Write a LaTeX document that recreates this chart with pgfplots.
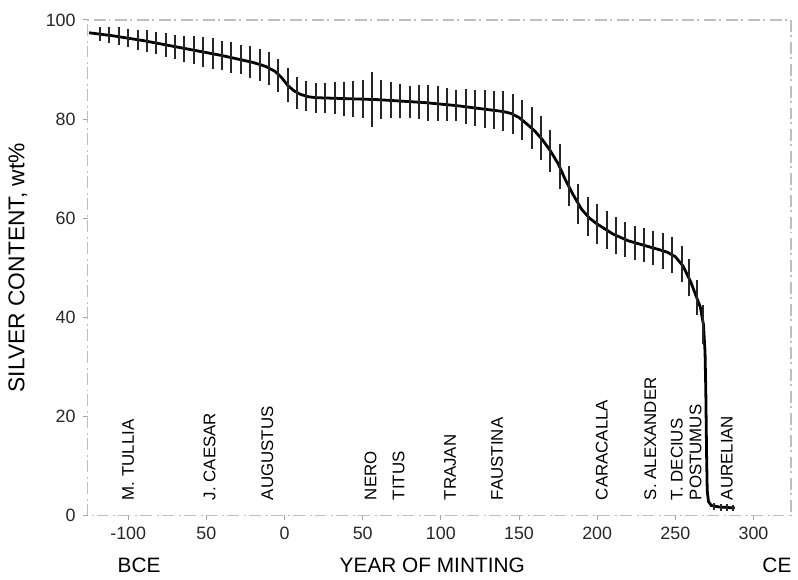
\documentclass[border=0pt]{standalone}
\usepackage{fontspec}
\setmainfont{Liberation Sans}
\usepackage{pgfplots}
\usepackage{pgfplotstable}
\pgfplotsset{compat=1.18}

% fitted silver content curve
\pgfplotstableread{
x y
-125 97.4
-120 97.2
-110 96.8
-100 96.3
-90 95.8
-80 95.2
-70 94.6
-60 94.0
-50 93.4
-40 92.8
-30 92.1
-20 91.4
-12 90.6
-6 89.6
-2 88.4
2 86.8
6 85.7
10 85.0
15 84.5
20 84.3
30 84.2
40 84.1
50 84.0
60 83.9
70 83.7
80 83.5
90 83.3
100 83.0
110 82.7
120 82.3
130 81.9
140 81.5
145 81.1
150 80.3
155 79.0
160 77.6
165 75.8
170 73.6
175 71.0
180 67.5
185 64.5
190 61.8
195 60.0
200 58.8
210 56.8
220 55.4
230 54.5
240 53.6
245 53.1
250 52.2
255 50.3
260 47.0
263 44.5
266 42.0
268 38.5
269 33.0
269.5 25.0
270 12.0
270.4 5.0
271.2 2.8
273 2.0
278 1.7
288 1.5
}\curvetab

% individual measurements with spread
\pgfplotstableread{
x y e
-118 97.2 1.4
-112 97.0 1.6
-106 96.7 1.8
-100 96.3 1.8
-94 96.0 2.0
-88 95.7 2.2
-82 95.3 2.2
-76 95.0 2.4
-70 94.6 2.4
-64 94.2 2.6
-58 93.9 2.8
-52 93.5 3.0
-46 93.2 3.2
-40 92.8 3.0
-34 92.4 3.2
-28 92.0 3.0
-22 91.5 3.2
-16 90.9 3.2
-10 90.2 3.4
-4 88.8 3.4
2 86.8 3.4
8 85.3 3.2
14 84.6 3.0
20 84.3 3.0
26 84.2 3.0
32 84.2 3.2
38 84.1 3.4
44 84.0 3.6
50 84.0 3.8
56 83.9 5.5
62 83.9 4.0
68 83.8 3.6
74 83.7 3.4
80 83.5 3.2
86 83.4 3.4
92 83.2 3.6
98 83.1 3.6
104 82.9 3.4
110 82.7 3.2
116 82.5 3.6
122 82.2 3.6
128 82.0 3.8
134 81.8 3.8
140 81.6 4.0
146 81.0 4.0
152 79.8 4.0
158 78.2 4.2
164 76.2 4.5
170 73.6 4.2
176 70.4 4.5
182 66.5 4.0
188 62.8 4.0
194 60.3 4.0
200 58.8 4.0
206 57.6 3.8
212 56.5 3.8
218 55.7 3.6
224 55.0 3.4
230 54.5 3.4
236 54.0 3.4
242 53.4 3.6
248 52.6 3.6
254 50.7 3.6
259 48.0 3.8
264 44.0 3.5
268 38.5 4.0
275 1.8 0.8
279 1.6 0.8
283 1.6 0.8
287 1.5 0.6
}\barstab

\begin{document}
\begin{tikzpicture}
\begin{axis}[
  scale only axis,
  width=353.5bp, height=249bp,
  xmin=-126, xmax=324,
  ymin=0, ymax=100,
  clip=false,
  axis line style={gray!50, line width=0.7pt, dash pattern=on 6pt off 1.5pt on 1pt off 2.5pt},
  xtick={-100,-50,0,50,100,150,200,250,300},
  xticklabels={-100,50,0,50,100,150,200,250,300},
  ytick={0,20,40,60,80,100},
  yticklabels={0,20,40,60,80,100},
  tick pos=left,
  tick align=outside,
  major tick length=2.5bp,
  tick style={gray!70, line width=0.4pt},
  ticklabel style={font=\fontsize{9}{10}\selectfont, text=black!85},
  xlabel={YEAR OF MINTING},
  ylabel={SILVER CONTENT, wt\%},
  every axis x label/.style={at={(axis description cs:0.49,0)}, anchor=center, yshift=-25bp, font=\fontsize{10.5}{12}\selectfont},
  every axis y label/.style={at={(axis description cs:-0.099,0.5)}, rotate=90, anchor=center, font=\fontsize{11.5}{13}\selectfont},
]
\addplot[black, line width=1.4bp, forget plot] table[x=x, y=y] {\curvetab};
\addplot[draw=none, mark=none, forget plot,
  error bars/.cd, y dir=both, y explicit,
  error bar style={black!85, line width=1bp},
  error mark=none]
  table[x=x, y=y, y error=e] {\barstab};

\begin{scope}[every node/.style={rotate=90, anchor=west, inner sep=0pt, font=\fontsize{8.5}{9}\selectfont}]
\node at (axis cs:-100,3) {M. TULLIA};
\node at (axis cs:-48,3) {J. CAESAR};
\node at (axis cs:-11,3) {AUGUSTUS};
\node at (axis cs:55,3) {NERO};
\node at (axis cs:73,3) {TITUS};
\node at (axis cs:106,3) {TRAJAN};
\node at (axis cs:136,3) {FAUSTINA};
\node at (axis cs:203,3) {CARACALLA};
\node at (axis cs:234,3) {S. ALEXANDER};
\node at (axis cs:251,3) {T. DECIUS};
\node at (axis cs:263,3) {POSTUMUS};
\node at (axis cs:283,3) {AURELIAN};
\end{scope}

\node[font=\fontsize{10.5}{12}\selectfont, yshift=-25bp] at (axis cs:-93,0) {BCE};
\node[font=\fontsize{10.5}{12}\selectfont, yshift=-25bp] at (axis cs:315,0) {CE};

\path (rel axis cs:0,0) ++(-44bp,-30.5bp);
\path (rel axis cs:1,1) ++(2bp,10bp);
\end{axis}
\end{tikzpicture}
\end{document}
